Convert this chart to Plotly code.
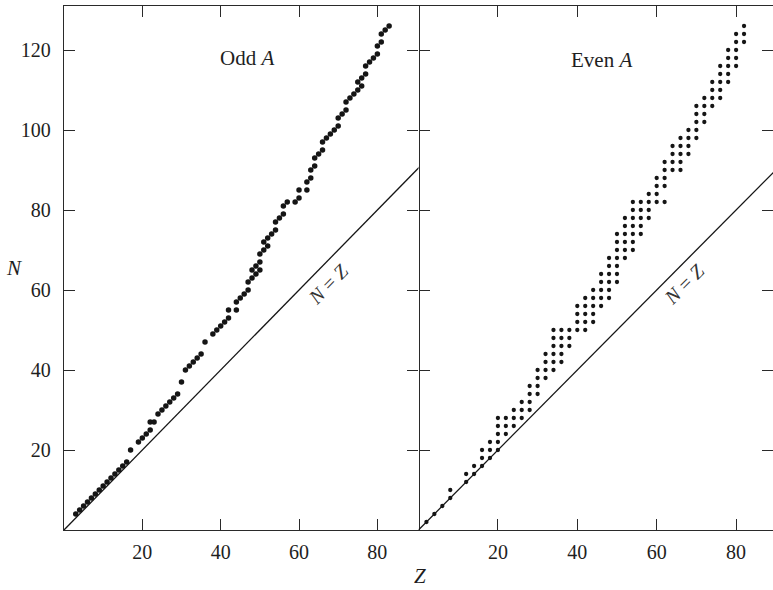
import plotly.graph_objects as go

# ---- Odd-A stable nuclides: proton number Z and neutron number N ----
odd_z = [3, 4, 5, 6, 7, 8, 9, 10, 11, 12, 13, 14, 15, 16,
         17, 19, 20, 21, 22, 22, 23, 24, 25, 26, 27, 28, 29,
         30, 31, 32, 33, 34, 35, 36, 38, 39, 40, 41, 42, 42,
         44, 44, 45, 46, 47, 47, 48, 48, 49, 49, 50, 50, 50,
         51, 51, 52, 52, 53, 54, 54, 55, 56, 56, 57, 59, 60,
         60, 62, 62, 63, 63, 64, 64, 65, 66, 66, 67, 68, 69,
         70, 70, 71, 72, 72, 73, 74, 75, 75, 76, 76, 77, 77,
         78, 79, 80, 80, 81, 81, 82, 83]
odd_n = [4, 5, 6, 7, 8, 9, 10, 11, 12, 13, 14, 15, 16, 17,
         20, 22, 23, 24, 25, 27, 27, 29, 30, 31, 32, 33, 34,
         37, 40, 41, 42, 43, 44, 47, 49, 50, 51, 52, 53, 55,
         55, 57, 58, 59, 60, 62, 63, 65, 64, 66, 65, 67, 69,
         70, 72, 71, 73, 74, 75, 77, 78, 79, 81, 82, 82, 83,
         85, 85, 87, 88, 90, 91, 93, 94, 95, 97, 98, 99, 100,
         101, 103, 104, 105, 107, 108, 109, 110, 112, 111, 113, 114, 116,
         117, 118, 119, 121, 122, 124, 125, 126]

# ---- Even-A stable nuclides, grouped by Z ----
even_z_cols = [2, 4, 6, 8, 12, 14, 16, 18, 20, 22, 24, 26, 28, 30, 32, 34,
               36, 38, 40, 42, 44, 46, 48, 50, 52, 54, 56, 58, 60, 62, 64,
               66, 68, 70, 72, 74, 76, 78, 80, 82]
even_n_cols = [
    [2], [4], [6], [8, 10], [12, 14], [14, 16], [16, 18, 20], [18, 20, 22],
    [20, 22, 24, 26, 28], [24, 26, 28], [26, 28, 30], [28, 30, 32],
    [30, 32, 34, 36], [34, 36, 38, 40], [38, 40, 42, 44],
    [40, 42, 44, 46, 48, 50], [42, 44, 46, 48, 50], [46, 48, 50],
    [50, 52, 54, 56], [50, 52, 54, 56, 58], [52, 54, 56, 58, 60],
    [56, 58, 60, 62, 64], [58, 60, 62, 64, 66, 68],
    [62, 64, 66, 68, 70, 72, 74], [68, 70, 72, 74, 76, 78],
    [70, 72, 74, 76, 78, 80, 82], [74, 76, 78, 80, 82], [78, 80, 82, 84],
    [82, 84, 86, 88], [82, 86, 88, 90, 92], [90, 92, 94, 96],
    [90, 92, 94, 96, 98], [94, 96, 98, 100], [98, 100, 102, 104, 106],
    [102, 104, 106, 108], [106, 108, 110, 112], [108, 110, 112, 114, 116],
    [112, 114, 116, 118, 120], [116, 118, 120, 122, 124], [122, 124, 126],
]

# N = Z reference line end points
nz_line = [0, 92]

z_ticks = [20, 40, 60, 80]
n_ticks = [20, 40, 60, 80, 100, 120]

even_z = [z for z, ns in zip(even_z_cols, even_n_cols) for _ in ns]
even_n = [n for ns in even_n_cols for n in ns]

ink = "#151515"
axis_col = "#2a2a2a"
serif = "Liberation Serif"
label_font = dict(family=serif, size=20, color="#1e1e1e")

fig = go.Figure()

fig.add_trace(go.Scatter(x=nz_line, y=nz_line, mode="lines",
                         line=dict(color=ink, width=1.3),
                         xaxis="x", yaxis="y", showlegend=False))
fig.add_trace(go.Scatter(x=odd_z, y=odd_n, mode="markers",
                         marker=dict(color=ink, size=5.5),
                         xaxis="x", yaxis="y", showlegend=False))

fig.add_trace(go.Scatter(x=nz_line, y=nz_line, mode="lines",
                         line=dict(color=ink, width=1.3),
                         xaxis="x2", yaxis="y2", showlegend=False))
fig.add_trace(go.Scatter(x=even_z, y=even_n, mode="markers",
                         marker=dict(color=ink, size=4.3),
                         xaxis="x2", yaxis="y2", showlegend=False))

# right-hand tick axis of the second panel (no trace data)
fig.add_trace(go.Scatter(x=[None], y=[None], xaxis="x2", yaxis="y3",
                         showlegend=False, hoverinfo="skip"))

common_x = dict(tickvals=z_ticks, ticks="inside", ticklen=11, tickwidth=1.3,
                tickcolor=axis_col, showline=True, linecolor=axis_col,
                linewidth=1.4, showgrid=False, zeroline=False,
                mirror="ticks", tickfont=label_font, ticklabelstandoff=4)
common_y = dict(range=[0, 131], tickvals=n_ticks, ticks="inside", ticklen=11,
                tickwidth=1.3, tickcolor=axis_col, showgrid=False,
                zeroline=False, tickfont=label_font)

fig.update_layout(
    width=773, height=590,
    margin=dict(l=64, r=0, t=6, b=60),
    paper_bgcolor="white", plot_bgcolor="white",
    xaxis=dict(domain=[0, 0.5], range=[0, 90.5], anchor="y", **common_x),
    yaxis=dict(domain=[0, 1], anchor="x", mirror="ticks", showline=True,
               linecolor=axis_col, linewidth=1.4, ticklabelstandoff=8,
               **common_y),
    xaxis2=dict(domain=[0.5, 1], range=[0, 89.3], anchor="y2", **common_x),
    yaxis2=dict(domain=[0, 1], anchor="x2", mirror=False, showline=False,
                showticklabels=False, **common_y),
    yaxis3=dict(overlaying="y2", anchor="x2", side="right", range=[0, 131],
                tickvals=n_ticks, ticks="inside", ticklen=11, tickwidth=1.3,
                tickcolor=axis_col, showline=False, showgrid=False,
                zeroline=False, showticklabels=False),
    font=dict(family=serif, color="#1e1e1e"),
)

annotations = [
    dict(text="Odd <i>A</i>", x=46.7, y=118, xref="x", yref="y",
         showarrow=False, font=dict(family=serif, size=21, color="#1e1e1e")),
    dict(text="Even <i>A</i>", x=46.0, y=117.5, xref="x2", yref="y2",
         showarrow=False, font=dict(family=serif, size=21, color="#1e1e1e")),
    dict(text="<i>N</i> = <i>Z</i>", x=67.4, y=61.6, xref="x", yref="y",
         showarrow=False, textangle=-45.6,
         font=dict(family=serif, size=20, color="#333")),
    dict(text="<i>N</i> = <i>Z</i>", x=66.9, y=61.6, xref="x2", yref="y2",
         showarrow=False, textangle=-45.2,
         font=dict(family=serif, size=20, color="#333")),
    dict(text="<i>N</i>", x=-0.085, y=0.5, xref="paper", yref="paper",
         showarrow=False, font=dict(family=serif, size=21, color="#1e1e1e")),
    dict(text="<i>Z</i>", x=0.502, y=-0.115, xref="paper", yref="paper",
         showarrow=False, font=dict(family=serif, size=21, color="#1e1e1e")),
]
fig.update_layout(annotations=annotations)

fig.write_html("out.html")
